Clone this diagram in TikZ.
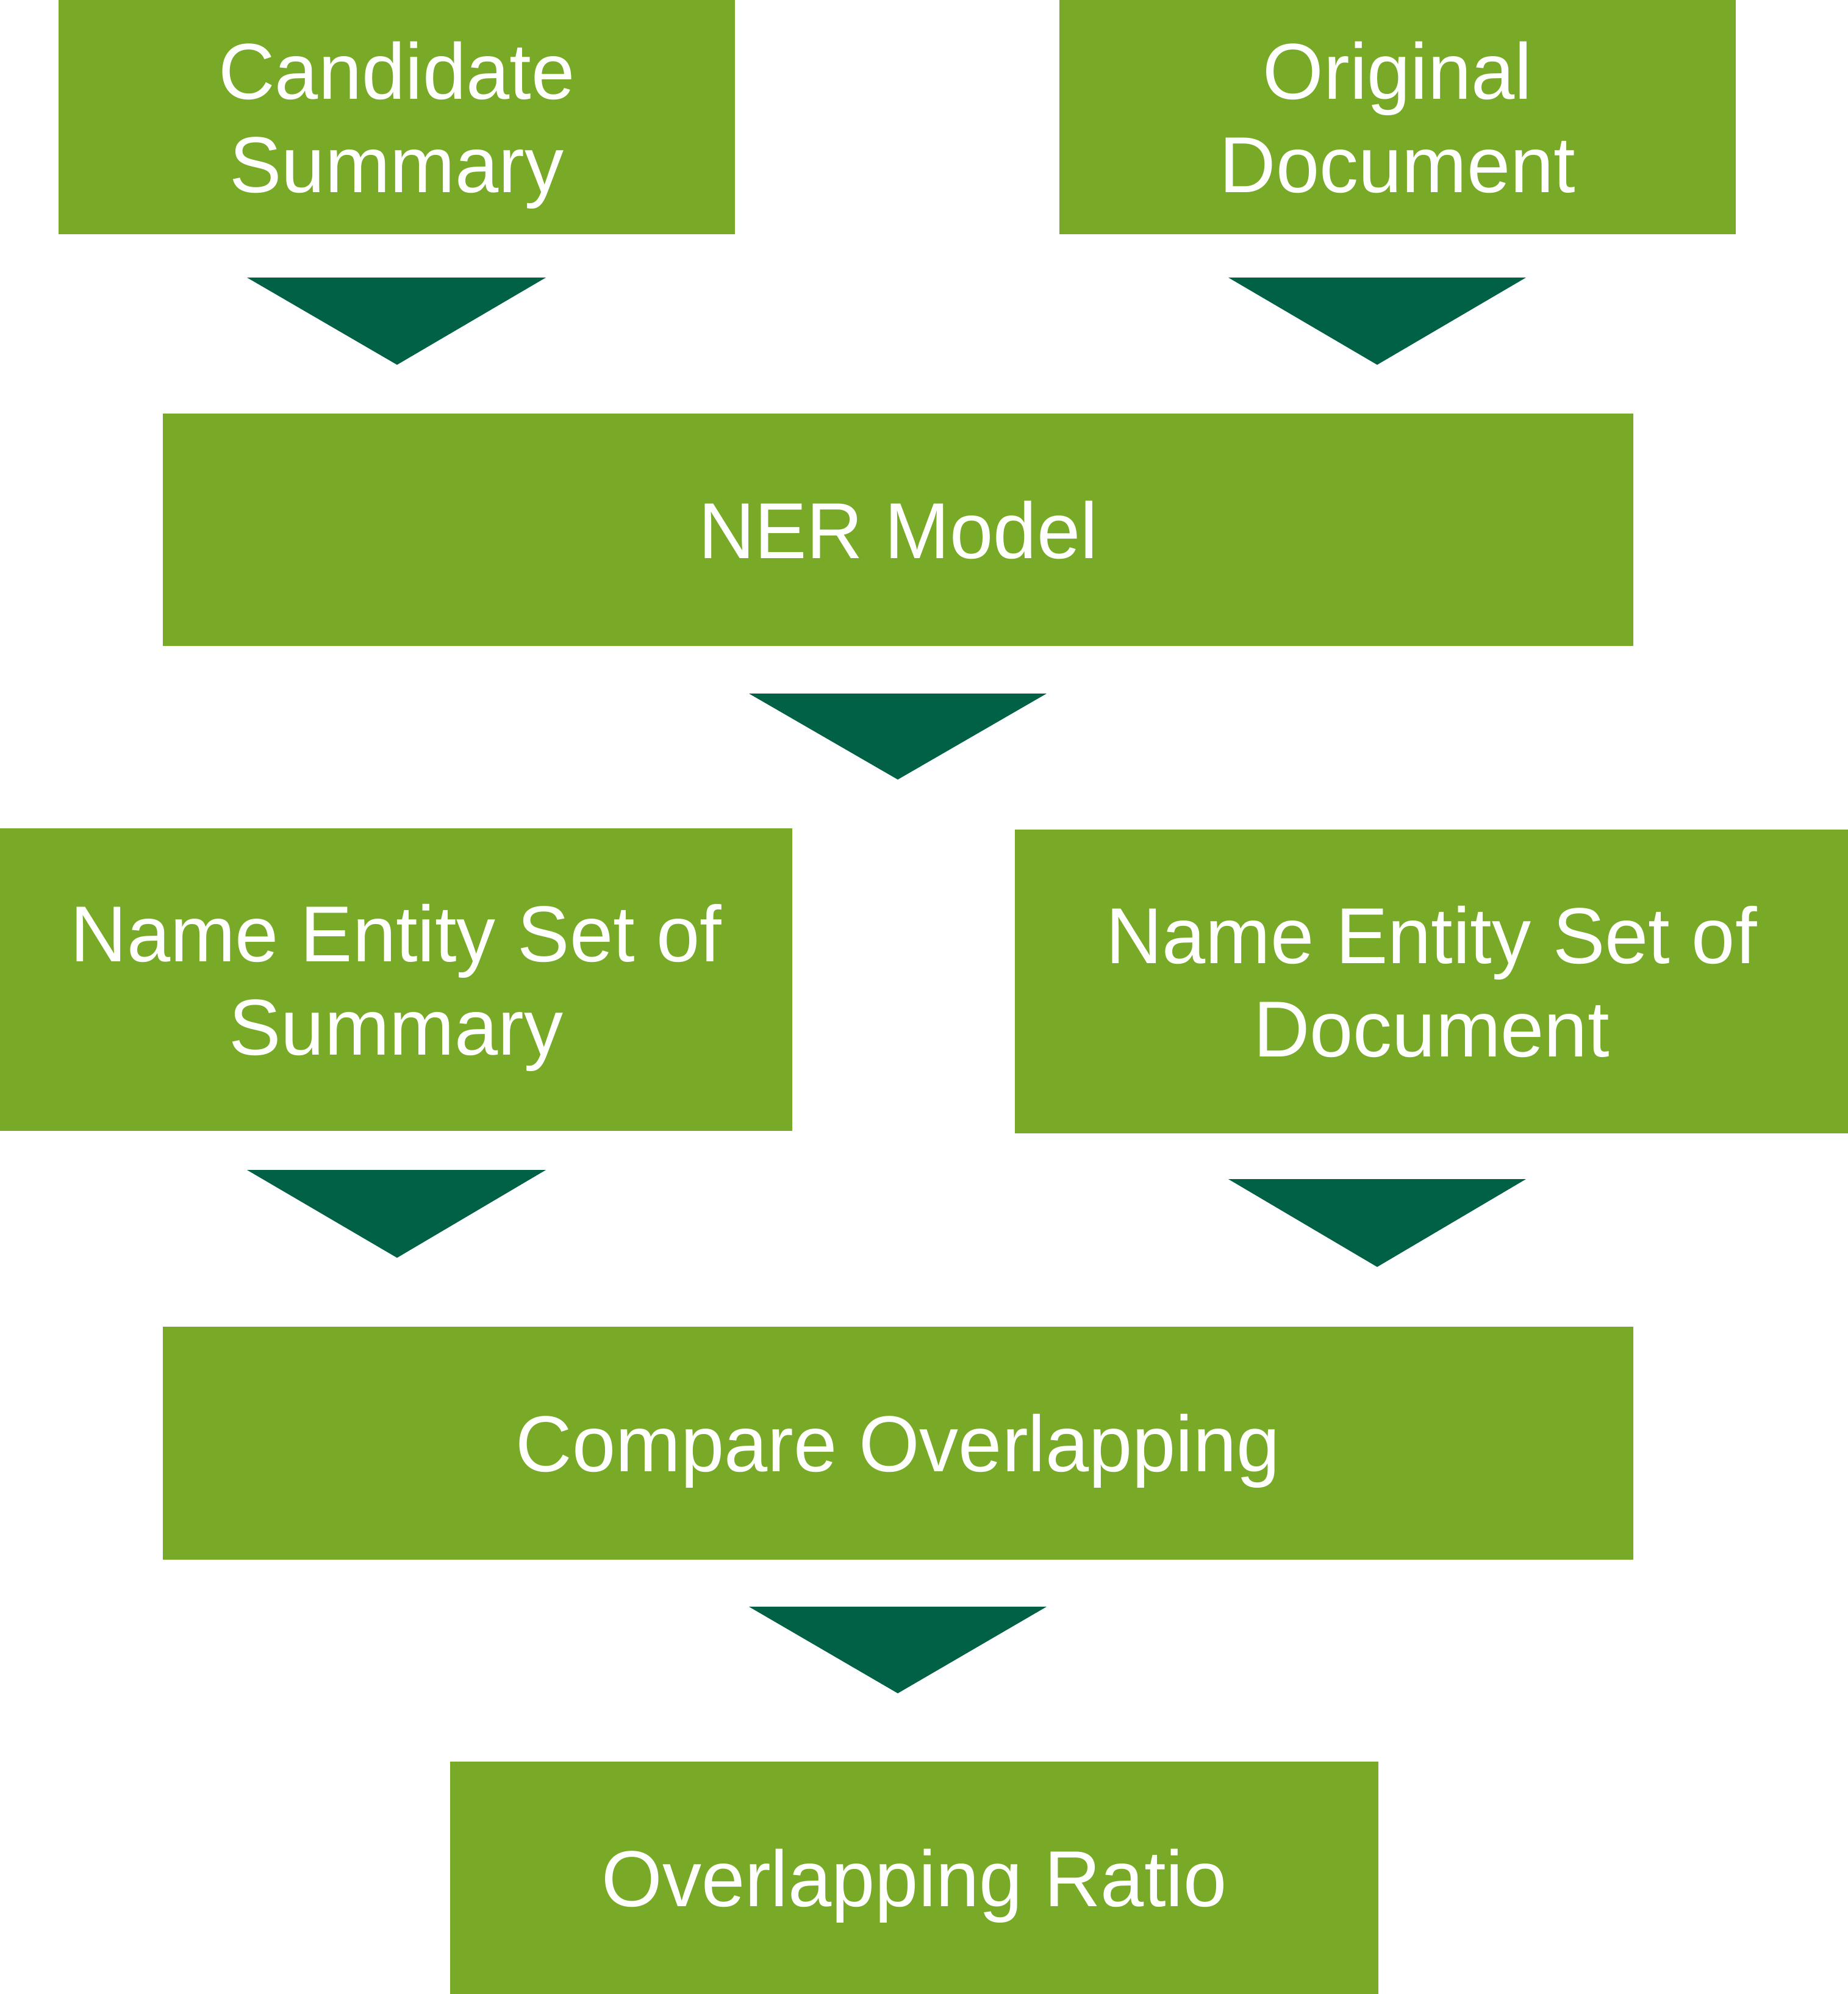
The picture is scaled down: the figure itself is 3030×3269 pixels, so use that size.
\documentclass[tikz,border=0pt]{standalone}
\usepackage{fontspec}
\setmainfont{Liberation Sans}[FakeStretch=0.985]
\definecolor{boxgreen}{RGB}{120,169,39}
\definecolor{arrowgreen}{RGB}{0,97,70}
% text block whose ink (cap top of first line to last baseline) is centred in the box
\newcommand\boxtext[1]{\raisebox{-4.55pt}[\height][\depth]{\begin{tabular}{@{}c@{}}#1\end{tabular}}}
\begin{document}
\begin{tikzpicture}[x=0.1mm,y=-0.1mm,
  greenbox/.style={fill=boxgreen, draw=none, inner sep=0pt,
    text=white, font=\fontsize{37}{43.5}\selectfont},
  downarrow/.style={fill=arrowgreen, draw=none}]
\useasboundingbox (0,0) rectangle (3030,3269);
% boxes
\node[greenbox, minimum width=1109*0.1mm, minimum height=384*0.1mm] (cand) at (650.5,192) {\boxtext{Candidate\\Summary}};
\node[greenbox, minimum width=1109*0.1mm, minimum height=384*0.1mm] (orig) at (2291.5,192) {\boxtext{Original\\Document}};
\node[greenbox, minimum width=2411*0.1mm, minimum height=381*0.1mm] (ner) at (1472.5,868.5) {\boxtext{NER Model}};
\node[greenbox, minimum width=1299*0.1mm, minimum height=496*0.1mm] (nes) at (649.5,1606) {\boxtext{Name Entity Set of\\Summary}};
\node[greenbox, minimum width=1366*0.1mm, minimum height=498*0.1mm] (ned) at (2347,1609) {\boxtext{Name Entity Set of\\Document}};
\node[greenbox, minimum width=2411*0.1mm, minimum height=382*0.1mm] (cmp) at (1472.5,2366) {\boxtext{Compare Overlapping}};
\node[greenbox, minimum width=1522*0.1mm, minimum height=381*0.1mm] (ratio) at (1499,3078.5) {\boxtext{Overlapping Ratio}};
% block arrows
\fill[downarrow] (405,455) -- (895,455) -- (651,598) -- cycle;
\fill[downarrow] (2014,455) -- (2502,455) -- (2258,598) -- cycle;
\fill[downarrow] (1228,1137) -- (1716,1137) -- (1472,1278) -- cycle;
\fill[downarrow] (405,1918) -- (895,1918) -- (651,2062) -- cycle;
\fill[downarrow] (2014,1933) -- (2502,1933) -- (2258,2077) -- cycle;
\fill[downarrow] (1228,2634) -- (1716,2634) -- (1472,2776) -- cycle;
\end{tikzpicture}
\end{document}
